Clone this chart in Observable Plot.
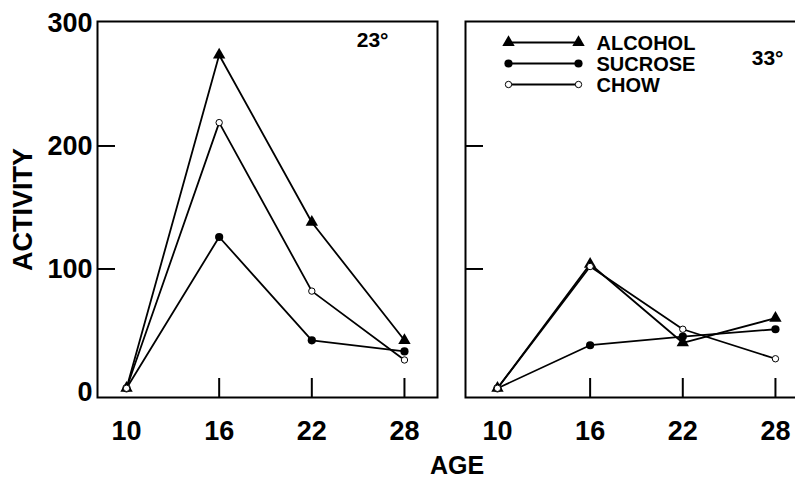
<!DOCTYPE html>
<html><head><meta charset="utf-8">
<script src="https://cdn.jsdelivr.net/npm/d3@7"></script>
<script src="https://cdn.jsdelivr.net/npm/@observablehq/plot@0.6"></script>
<style>
html,body{margin:0;padding:0;background:#fff;overflow:hidden}
#chart{position:relative;width:795px;height:482px;overflow:hidden;font-family:"Liberation Sans",Arial,Helvetica,sans-serif;font-weight:bold;color:#000;background:#fff}
#chart svg{position:absolute;top:0}
#age{position:absolute;left:357px;width:200px;top:453px;text-align:center;font-size:25px;line-height:25px}
</style></head><body><div id="chart"><div id="age">AGE</div></div>
<script>
// ---- data ----
const ages = [10, 16, 22, 28];
const seriesNames = ["ALCOHOL", "SUCROSE", "CHOW"];
const alcohol23 = [3, 274, 138, 42];
const sucrose23 = [3, 126, 42, 33];
const chow23    = [3, 219, 82, 26];
const alcohol33 = [3, 104, 40, 60];
const sucrose33 = [3, 38, 45, 51];
const chow33    = [3, 102, 51, 27];
const yTicks = [0, 100, 200, 300];
const xTicks = [10, 16, 22, 28];
const innerXTicks = [16, 22, 28];
const innerYTicks = [100, 200];
const panelLabels = ["23°", "33°"];

function rows(a, s, c) {
  const out = [];
  [a, s, c].forEach((vals, k) => vals.forEach((v, i) => out.push({age: ages[i], value: v, series: seriesNames[k]})));
  return out;
}
const data23 = rows(alcohol23, sucrose23, chow23);
const data33 = rows(alcohol33, sucrose33, chow33);

// ---- layout ----
const H = 482, mTop = 21, mBottom = 85;
const yDomain = [-4.5, 301.2];
const font = '"Liberation Sans", Arial, Helvetica, sans-serif';
const markerStyle = {
  ALCOHOL: {symbol: "triangle", r: 4.6, fill: "black", stroke: "none", strokeWidth: 0},
  SUCROSE: {symbol: "circle", r: 4.1, fill: "black", stroke: "none", strokeWidth: 0},
  CHOW:    {symbol: "circle", r: 3.2, fill: "white", stroke: "black", strokeWidth: 1}
};

function dataMarks(data) {
  const m = [Plot.line(data, {x: "age", y: "value", z: "series", stroke: "black", strokeWidth: 1.8})];
  for (const s of seriesNames) {
    const st = markerStyle[s];
    m.push(Plot.dot(data.filter(d => d.series === s), {x: "age", y: "value", ...st}));
  }
  return m;
}

function panel({data, width, marginLeft, marginRight, xDomain, left, label, labelDx, labelDy, legend}) {
  const pxPerX = (width - marginLeft - marginRight) / (xDomain[1] - xDomain[0]);
  const pxPerY = (H - mTop - mBottom) / (yDomain[1] - yDomain[0]);
  const marks = [
    Plot.frame({stroke: "black", strokeWidth: 2}),
    Plot.ruleX(innerXTicks, {y1: yDomain[0], y2: yDomain[0] + 19 / pxPerY, stroke: "black", strokeWidth: 2}),
    Plot.ruleY(innerYTicks, {x1: xDomain[0], x2: xDomain[0] + 18 / pxPerX, stroke: "black", strokeWidth: 2}),
    ...dataMarks(data),
    Plot.axisX({ticks: xTicks, tickSize: 0, tickPadding: 23, fontSize: 27, fontWeight: "bold", label: null}),
    Plot.text([label], {text: d => d, frameAnchor: "top-right", textAnchor: "end", lineAnchor: "top", dx: labelDx, dy: labelDy, fontSize: 21, fontWeight: "bold"})
  ];
  if (left) {
    marks.push(Plot.axisY({ticks: yTicks, tickSize: 0, tickPadding: 5, fontSize: 27, fontWeight: "bold", label: null}));
    marks.push(Plot.text(["ACTIVITY"], {text: d => d, frameAnchor: "left", rotate: -90, dx: -74, fontSize: 27, fontWeight: "bold", textAnchor: "middle", lineAnchor: "middle"}));
  }
  if (legend) {
    const xs = d3.scaleLinear(xDomain, [marginLeft, width - marginRight]);
    const ys = d3.scaleLinear(yDomain, [H - mBottom, mTop]);
    const lx1 = xs.invert(legend.x1), lx2 = xs.invert(legend.x2), tx = xs.invert(legend.tx);
    seriesNames.forEach((s, i) => {
      const ly = ys.invert(legend.ys[i]);
      const pts = [{age: lx1, value: ly, series: s}, {age: lx2, value: ly, series: s}];
      marks.push(Plot.line(pts, {x: "age", y: "value", stroke: "black", strokeWidth: 1.8}));
      marks.push(Plot.dot(pts, {x: "age", y: "value", ...markerStyle[s]}));
      marks.push(Plot.text([s], {text: d => d, x: () => tx, y: () => ys.invert(legend.ys[i] + 1), textAnchor: "start", lineAnchor: "middle", fontSize: 20, fontWeight: "bold"}));
    });
  }
  return Plot.plot({
    width, height: H,
    marginLeft, marginRight, marginTop: mTop, marginBottom: mBottom,
    x: {domain: xDomain, axis: null},
    y: {domain: yDomain, axis: null},
    style: {fontFamily: font, fontWeight: "bold", fontSize: "27px", background: "transparent", color: "black", overflow: "visible"},
    marks
  });
}

const chart = document.getElementById("chart");
const leftSvg = panel({data: data23, width: 450, marginLeft: 97, marginRight: 13, xDomain: [8.12, 30.14], left: true, label: panelLabels[0], labelDx: -49, labelDy: 11});
leftSvg.style.left = "0px";
chart.appendChild(leftSvg);

const rightSvg = panel({data: data33, width: 371, marginLeft: 28, marginRight: 0, xDomain: [7.93, 30.14], left: false, label: panelLabels[1], labelDx: -25, labelDy: 29,
  legend: {x1: 71, x2: 141, tx: 159, ys: [42, 63, 84]}});
rightSvg.style.left = "437px";
chart.appendChild(rightSvg);
</script>
</body></html>
